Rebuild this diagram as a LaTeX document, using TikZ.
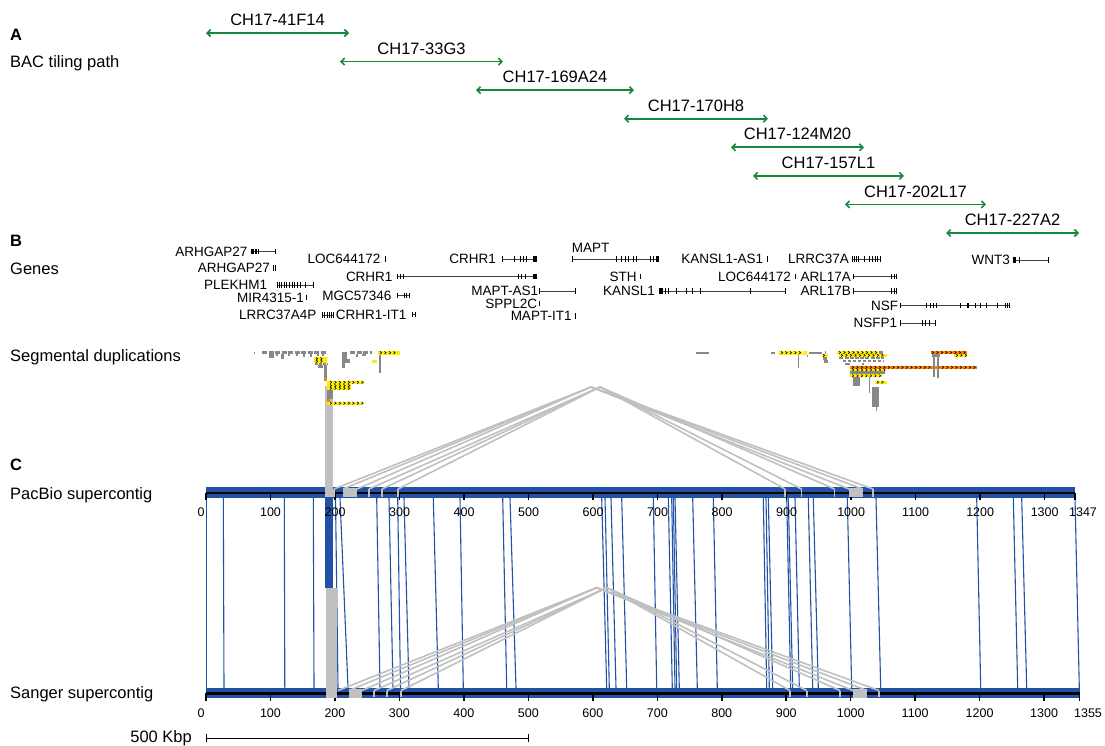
\documentclass[tikz,border=0pt]{standalone}
\usepackage{fontspec}
\setmainfont{Liberation Sans}
\usetikzlibrary{arrows.meta}
\definecolor{bacgreen}{RGB}{24,136,60}
\definecolor{cblue}{RGB}{34,82,166}
\definecolor{lgray}{RGB}{192,192,192}
\definecolor{sdgray}{RGB}{136,136,136}
\definecolor{sdyel}{RGB}{255,238,0}
\definecolor{sdorg}{RGB}{255,128,0}
\newcommand\mychev[3]{\foreach \ci in {0,...,#3}{\draw[chevst] ({#1+4.5*\ci},{#2-1.3}) -- ++(1.7,1.3) -- ++(-1.7,1.3);}}
\newcommand\gx[2]{\foreach \gexv in {#2}{\draw[exon] (\gexv,{#1-2.6}) -- (\gexv,{#1+2.6});}}
\newcommand\gi[3]{\draw[intron] (#2,#1) -- (#3,#1);}
\newcommand\gb[3]{\fill ({#2},{#1-2.6}) rectangle ({#3},{#1+2.6});}
\begin{document}
\begin{tikzpicture}[x=1pt,y=-1pt,
  sec/.style={font=\fontsize{16.5}{19}\selectfont, inner sep=0pt, anchor=base west},
  bacl/.style={font=\fontsize{16.5}{19}\selectfont, inner sep=0pt, anchor=center},
  bac/.style={draw=bacgreen, line width=1.6pt, {Straight Barb[length=3.5pt,width=7pt]}-{Straight Barb[length=3.5pt,width=7pt]}},
  glab/.style={font=\fontsize{13.5}{15}\selectfont, inner sep=0pt, anchor=east},
  intron/.style={draw=black!75, line width=0.5pt},
  exon/.style={draw=black, line width=1pt},
  chevst/.style={draw=black, line width=0.55pt},
  blink/.style={draw=cblue, line width=1.1pt},
  glink/.style={draw=lgray, line width=1.6pt},
  gtick/.style={draw=lgray, line width=1.8pt},
  tickl/.style={font=\fontsize{12.5}{14}\selectfont, inner sep=0pt, anchor=center},
]
\useasboundingbox (0,0) rectangle (1105,745);
\fill[white] (0,0) rectangle (1105,745);

% ---------- section labels
\node[sec] (lA) at (10,40) {\bfseries A};
\node[sec] (lbac) at (10,67) {BAC tiling path};
\node[sec] (lB) at (10,246) {\bfseries B};
\node[sec] (lgenes) at (10,274) {Genes};
\node[sec] (lseg) at (10,361) {Segmental duplications};
\node[sec] (lC) at (10,470) {\bfseries C};
\node[sec] (lpac) at (10,499) {PacBio supercontig};
\node[sec] (lsan) at (10,698) {Sanger supercontig};

% ---------- BAC tiling path
\foreach \a/\b/\t [count=\k from 0] in {206/349/CH17-41F14, 340/503/CH17-33G3, 476/634/CH17-169A24, 624/768/CH17-170H8, 731/864/CH17-124M20, 753/904/CH17-157L1, 845/986/CH17-202L17, 946/1079/CH17-227A2}{
  \pgfmathsetmacro\yy{33+28.57*\k}
  \draw[bac] (\a,\yy) -- (\b,\yy);
  \node[bacl] (bac\k) at ({(\a+\b)/2},{\yy-13}) {\t};
}

% ---------- genes
\node[glab] (g01) at (247.5,251.5) {ARHGAP27}; \gi{251.5}{250.5}{275} \gb{251.5}{250.5}{253.5} \gb{251.5}{254.5}{256.7} \gx{251.5}{258.5,275}
\node[glab] (g02) at (270,268) {ARHGAP27}; \gx{268}{273.5,275.8}
\node[glab] (g03) at (267.3,285) {PLEKHM1}; \gi{285}{277.5}{313.3} \gx{285}{277.5,279.5,281.5,284,286.5,289.5,292,294.5,297.5,300.5,305,313.3}
\node[glab] (g04) at (304,297.5) {MIR4315-1}; \gx{297.5}{306.7}
\node[glab] (g05) at (316.7,315) {LRRC37A4P}; \gi{315}{322.5}{333.3} \gx{315}{322.5,324.5,327,329,331,333.3}
\node[glab] (g06) at (380.7,259) {LOC644172}; \gx{259}{385}
\node[glab] (g07) at (392.7,276.5) {CRHR1}; \gi{276.5}{397.5}{536.7} \gx{276.5}{397.5,400.5,403,518.3,521.7,525} \gb{276.5}{532.7}{536.7}
\node[glab] (g08) at (391.7,295.7) {MGC57346}; \gi{295.7}{397.3}{409.3} \gx{295.7}{397.3,404,406,409.3}
\node[glab] (g09) at (406.7,314.5) {CRHR1-IT1}; \gi{314.5}{412}{415} \gx{314.5}{412,415}
\node[glab] (g10) at (496,259) {CRHR1}; \gi{259}{502.7}{536.7} \gx{259}{502.7,514.3,520,523.3,526.7} \gb{259}{532.7}{536.7}
\node[glab, anchor=west] (g11) at (571.7,247.7) {MAPT}; \gi{259}{572.7}{658.3} \gx{259}{572.7,616.7,621.7,625,628.3,633.3,636.7,650,653.3} \gb{259}{656}{658.5}
\node[glab] (g12) at (636.7,276.5) {STH}; \gx{276.5}{640.7}
\node[glab] (g13) at (763.3,259) {KANSL1-AS1}; \gx{259}{767.3}
\node[glab] (g14) at (538.3,291) {MAPT-AS1}; \gi{291}{539.3}{575} \gx{291}{539.3,575}
\node[glab] (g15) at (537.3,303.5) {SPPL2C}; \gx{303.5}{539.3}
\node[glab] (g16) at (571.7,316) {MAPT-IT1}; \gx{316}{575}
\node[glab] (g17) at (655,291) {KANSL1}; \gi{291}{659.3}{785.7} \gb{291}{659.3}{663.3} \gx{291}{665,668,676.7,686.7,692,700,750,785.7}
\node[glab] (g18) at (791,276.5) {LOC644172}; \gx{276.5}{795}
\node[glab] (g19) at (849,259) {LRRC37A}; \gi{259}{851.7}{880} \gx{259}{852,854.2,856.4,858.3,864,869.3,872.7,875,877.5,880}
\node[glab] (g20) at (851,276.5) {ARL17A}; \gi{276.5}{853}{896.7} \gx{276.5}{853,891.5,894,896.7}
\node[glab] (g21) at (851,291) {ARL17B}; \gi{291}{853}{896.7} \gx{291}{853,891.5,894,896.7}
\node[glab] (g22) at (898.3,305.7) {NSF}; \gi{305.7}{900.7}{1009.3} \gx{305.7}{900.7,926.7,930.7,933.3,936.7,960,975,980,986.7,997,1005,1007.5,1009.3} \gb{305.7}{966.7}{969.3}
\node[glab] (g23) at (897.3,323) {NSFP1}; \gi{323}{900.7}{935} \gx{323}{900.7,922,925,929,935}
\node[glab] (g24) at (1010,260) {WNT3}; \gi{260}{1013.3}{1048.3} \gb{260}{1013.3}{1016} \gx{260}{1019,1048.3}

% ---------- blue alignment links
\foreach \a/\b in {206.7/206.7, 223.3/224, 284.3/284.8, 313.3/314, 335.5/338, 340/348, 376.7/380, 389/393, 397.7/400.5, 404/409, 433.3/438.3, 460/463.3, 502.7/506.7, 510/516, 601.7/606.7, 605/609.3, 611/616, 621.7/626.7, 653.3/656.7, 668.3/672.3, 671.7/675, 673.3/676.7, 675/679.3, 692.7/697.3, 713.3/717.3, 763.3/766.7, 766/769.3, 768.3/772.7, 786.7/790.7, 788.3/792.7, 795/799.3, 808.3/812.7, 813.3/818.3, 847.3/851.7, 876/880.7, 976.7/980.7, 1013.3/1017.7, 1021.7/1026.7, 1075/1079.3}
  \draw[blink] (\a,498) -- (\b,688);
\fill[cblue] (325,498) rectangle (333.3,587.7);

% ---------- PacBio bar
\fill[cblue] (206,487) rectangle (1075,498);
\draw[black, line width=2.2pt] (206,493) -- (1075,493);
\foreach \i in {0,...,13}{
  \pgfmathsetmacro\tx{206+100*\i*0.64514}
  \pgfmathtruncatemacro\lab{100*\i}
  \draw[black, line width=1.5pt] (\tx,493) -- (\tx,499.5);
  \ifnum\i>0 \node[tickl] (pt\i) at (\tx,512.5) {\lab};\fi
}
\draw[black, line width=1.5pt] (1075,493) -- (1075,499.5);
\node[tickl] (pt0) at (201,512.5) {0};
\node[tickl] (ptend) at (1083,512.5) {1347};

% ---------- Sanger bar
\fill[cblue] (206,688) rectangle (1079.6,698);
\draw[black, line width=2.4pt] (206,693.3) -- (1079.6,693.3);
\foreach \i in {0,...,13}{
  \pgfmathsetmacro\tx{206+100*\i*0.6447}
  \pgfmathtruncatemacro\lab{100*\i}
  \draw[black, line width=1.5pt] (\tx,693.3) -- (\tx,700.5);
  \ifnum\i>0 \node[tickl] (st\i) at (\tx,713.5) {\lab};\fi
}
\draw[black, line width=1.5pt] (1079.6,693.3) -- (1079.6,700.5);
\node[tickl] (st0) at (201,713.5) {0};
\node[tickl] (stend) at (1088,713.5) {1355};

% ---------- gray duplication links (upper)
\fill[lgray] (325,386) rectangle (332.5,497);
\coordinate (AL) at (591,387);
\coordinate (AR) at (600,387);
\foreach \l/\r in {334/873, 343/862.5, 357/849}
  \draw[glink] (\l,489) -- (AL) -- (\r,489);
\foreach \l/\r in {369/834.5, 382/801.5, 398/785}
  \draw[glink] (\l,489) -- (AR) -- (\r,489);
\foreach \x in {334,369,382,398,785,801.5,834.5,873}
  \draw[gtick] (\x,489) -- (\x,497);
\fill[lgray] (343,488) rectangle (357,497);
\fill[lgray] (849,488) rectangle (862.5,497);

% ---------- gray duplication links (lower)
\fill[lgray] (326,587.7) rectangle (337,697.7);
\coordinate (BL) at (596.7,587.7);
\coordinate (BR) at (606.7,587.7);
\foreach \l/\r in {338/879, 349/867, 362/853}
  \draw[glink] (\l,690.5) -- (BL) -- (\r,690.5);
\foreach \l/\r in {374/840, 387/806.7, 401/790}
  \draw[glink] (\l,690.5) -- (BR) -- (\r,690.5);
\foreach \x in {374,387,401,790,806.7,840,879}
  \draw[gtick] (\x,690.5) -- (\x,697);
\fill[lgray] (349,689) rectangle (362,697.7);
\fill[lgray] (853,689) rectangle (867,697.7);

% ---------- segmental duplications, left cluster
\fill[sdgray] (254,351.5) rectangle (255,353.5);
\draw[sdgray, line width=2.5pt, dash pattern=on 5pt off 1.5pt] (262,352.5) -- (327,352.5);
\foreach \p/\q/\r in {268.5/274/357.5, 276/278/356, 281/284/359, 288/290/356, 296/298/356, 303/305/356.5, 310/312/357, 317/319/356, 322/324/356}
  \fill[sdgray] (\p,354) rectangle (\q,\r);
\fill[sdgray] (341.7,351.5) rectangle (347.3,363);
\fill[sdgray] (341.7,363) rectangle (345,368);
\fill[sdgray] (347.3,359) rectangle (350,363);
\draw[sdgray, line width=2.5pt, dash pattern=on 5pt off 1.5pt] (350,352.5) -- (371.7,352.5);
\fill[sdgray] (356,354) rectangle (358,357);
\fill[sdgray] (362,354) rectangle (366,356);
\fill[sdgray] (379.3,352) rectangle (380.7,373.3);
\fill[sdyel] (378.3,351) rectangle (400,354.5); \mychev{380}{352.7}{3}
\fill[sdyel] (371.7,360) rectangle (376.7,362.7);
\fill[sdyel] (314,357.3) rectangle (327.3,362.7); \mychev{316}{358.7}{1} \mychev{316}{361.3}{1}
\draw[sdgray, line width=2.3pt, dash pattern=on 3pt off 1pt] (315,363.8) -- (327.3,363.8);
\fill[sdgray] (318.3,365) rectangle (322.7,368.3);
\fill[sdgray] (324,365) rectangle (327.3,378.3);
\fill[sdorg] (324,377.7) rectangle (326.7,380.7);
\fill[sdyel] (327.3,380.7) rectangle (364,384); \mychev{330}{382.3}{7}
\fill[sdyel] (327.3,384) rectangle (350.7,390); \mychev{330}{385.7}{4} \mychev{330}{388.3}{4}
\fill[sdgray] (327.3,390) rectangle (332.7,399.3);
\fill[sdorg] (327.3,399.3) rectangle (329.5,401.7);
\fill[sdyel] (327.3,401.7) rectangle (363.3,404.8); \mychev{330}{403.2}{7}

% ---------- segmental duplications, right cluster
\fill[sdgray] (696,351.7) rectangle (709.3,353.5);
\fill[sdgray] (771,351.7) rectangle (775,353.5);
\fill[sdyel] (779,351) rectangle (801.7,354.5); \mychev{781}{352.7}{4}
\fill[sdyel] (803.3,351) rectangle (807.3,354.5);
\fill[sdgray] (809.3,351.7) rectangle (821.7,353.5);
\fill[sdgray] (798.3,354.5) rectangle (799.3,368.3);
\fill[sdgray] (806.7,354.5) rectangle (807.7,356.7);
\fill[sdgray] (825,351) rectangle (826,354);
\fill[sdyel] (821.7,354) rectangle (828.3,356.7); \mychev{823}{355.3}{0}
\fill[sdgray] (822.7,356.7) rectangle (826.7,360);
\fill[sdgray] (824,360) rectangle (828.3,362.7);
\fill[sdyel] (837.3,351) rectangle (878.3,354); \mychev{839}{352.5}{8}
\fill[sdgray] (879.3,351) rectangle (883.3,354);
\fill[sdyel] (839.3,354) rectangle (886.7,356.7); \mychev{841}{355.3}{9}
\draw[sdgray, line width=2.6pt, dash pattern=on 4pt off 1.2pt] (839.3,358) -- (884,358);
\draw[sdgray, line width=2.6pt, dash pattern=on 3pt off 2pt] (843,361) -- (884,361);
\fill[sdgray] (845,362.5) rectangle (850,365);
\fill[sdgray] (862,362.5) rectangle (864,365);
\fill[sdorg] (850,366) rectangle (976.7,368.7); \mychev{852}{367.3}{27}
\fill[sdyel] (850,368.7) rectangle (885,371.3); \mychev{852}{370}{7}
\fill[sdgray] (850,371.3) rectangle (885,374.3);
\fill[sdyel] (850,374.3) rectangle (881.7,377.3); \mychev{852}{375.8}{6}
\fill[sdgray] (853.3,377.3) rectangle (860,386);
\fill[sdyel] (875,380.7) rectangle (886.7,383.7); \mychev{877}{382.2}{1}
\fill[sdgray] (869,377.3) rectangle (870,392.7);
\fill[sdgray] (872.3,386.7) rectangle (879,407.3);
\fill[sdgray] (876,407.3) rectangle (876.7,410.7);
\fill[sdorg] (930.7,351) rectangle (967.3,354); \mychev{932}{352.5}{7}
\fill[sdyel] (954,354) rectangle (967.3,356.7); \mychev{956}{355.3}{2}
\fill[sdgray] (931.7,354) rectangle (940,356.7);
\fill[sdgray] (933,356.7) rectangle (935,377.3);
\fill[sdgray] (937,356.7) rectangle (939.3,378);

% ---------- scale bar
\node[sec, anchor=east] (sbl) at (192,738) {500 Kbp};
\coordinate (sb1) at (206,738);
\coordinate (sb2) at (528,738);
\draw[black, line width=0.8pt] (sb1) -- (sb2);
\draw[black, line width=0.8pt] ([yshift=-4pt]sb1) -- ([yshift=4pt]sb1);
\draw[black, line width=0.8pt] ([yshift=-4pt]sb2) -- ([yshift=4pt]sb2);
\end{tikzpicture}
\end{document}
